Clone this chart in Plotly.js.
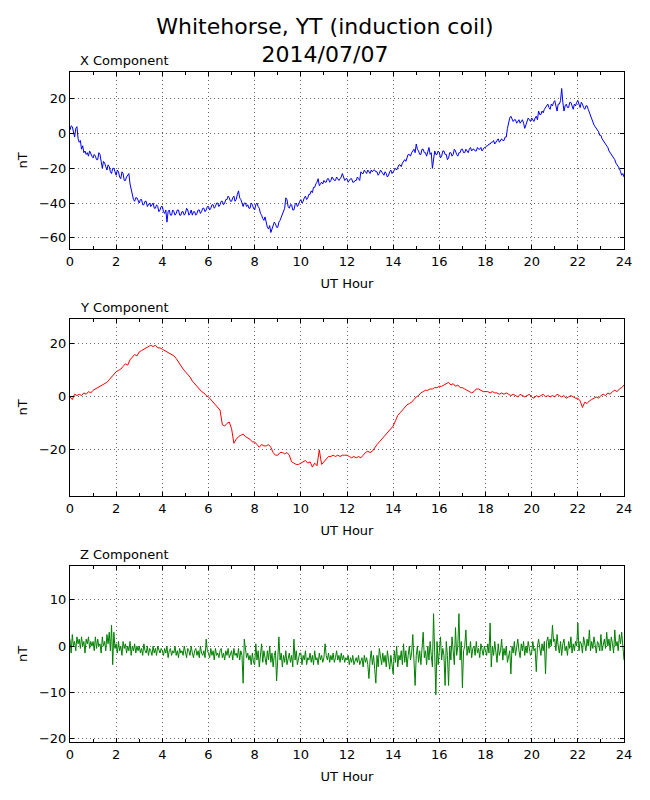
<!DOCTYPE html>
<html>
<head>
<meta charset="utf-8">
<script src="https://cdn.plot.ly/plotly-3.0.1.min.js"></script>
<style>
  body { margin: 0; background: #fff; }
  #graphique { width: 650px; height: 800px; }
</style>
</head>
<body>
<div id="graphique"></div>
<script>
// X and Z: one sample every 0.05 hour (20 per row), Y: every 0.1 hour (10 per row)
var pasX = 0.05;
var pasY = 0.1;
var pasZ = 0.05;

var composanteX = [
    2, 4.5, 4, 0, -2, 3, 4, -3, -5, -4, -9, -7, -11, -10, -12, -11, -13, -10, -12, -13,
    -14, -12, -13, -15, -15, -11, -12, -17, -20, -16, -17, -19, -21, -18, -19, -22, -23, -20, -20, -22,
    -24, -21, -22, -25, -26, -22, -23, -27, -27, -25, -24, -23, -29, -32, -36, -38, -39, -37, -37, -39,
    -40, -38, -38, -41, -41, -39, -39, -42, -41, -40, -42, -41, -40, -43, -43, -41, -42, -45, -44, -42,
    -42, -45, -46, -44, -51, -45, -44, -47, -47, -44, -45, -47, -46, -44, -44, -47, -47, -45, -45, -47,
    -46, -43, -44, -47, -46, -44, -47, -45, -45, -47, -46, -44, -44, -46, -45, -43, -43, -45, -44, -42,
    -42, -44, -43, -41, -41, -43, -42, -40, -40, -42, -41, -39, -39, -41, -40, -38, -38, -36, -37, -39,
    -39, -37, -36, -39, -38, -35, -33, -37, -38, -40, -42, -40, -40, -42, -41, -43, -43, -40, -41, -43,
    -44, -41, -40, -42, -43, -46, -47, -49, -50, -48, -52, -54, -55, -53, -57, -55, -53, -51, -52, -54,
    -54, -51, -50, -48, -47, -45, -43, -37, -38, -42, -43, -41, -41, -44, -44, -41, -40, -42, -41, -39,
    -38, -40, -39, -37, -36, -38, -37, -35, -35, -33, -34, -31, -31, -29, -28, -26, -30, -29, -28, -29,
    -27, -28, -28, -26, -26, -28, -27, -25, -26, -27, -27, -25, -26, -27, -26, -25, -23, -26, -27, -26,
    -26, -28, -27, -26, -26, -28, -28, -27, -27, -25, -26, -27, -22, -23, -23, -21, -22, -23, -21, -22,
    -23, -21, -22, -21, -21, -22, -22, -24, -23, -21, -22, -23, -24, -22, -23, -25, -24, -22, -21, -23,
    -22, -21, -20, -21, -19, -18, -18, -19, -17, -16, -15, -16, -14, -12, -12, -13, -11, -10, -9, -11,
    -6, -9, -10, -12, -12, -9, -9, -11, -11, -13, -10, -8, -12, -11, -20, -14, -10, -12, -12, -10,
    -11, -14, -13, -10, -10, -12, -12, -15, -14, -11, -11, -13, -12, -9, -10, -12, -13, -11, -11, -9,
    -9, -11, -11, -9, -10, -11, -9, -8, -10, -9, -9, -10, -10, -8, -9, -9, -8, -10, -9, -8,
    -8, -7, -7, -6, -6, -5, -5, -4, -6, -5, -4, -3, -5, -4, -3, -4, -4, -2, -2, 3,
    6, 9, 10, 8, 7, 8, 8, 6, 7, 8, 6, 7, 8, 6, 3, 5, 7, 9, 8, 7,
    9, 8, 7, 9, 10, 8, 13, 11, 11, 13, 12, 14, 15, 16, 17, 15, 14, 17, 16, 18,
    19, 16, 13, 17, 17, 19, 26, 18, 13, 16, 17, 15, 15, 18, 18, 16, 14, 17, 16, 18,
    19, 17, 15, 18, 17, 15, 14, 16, 16, 14, 12, 10, 8, 7, 5, 4, 3, 2, 1, -1,
    -1, -3, -4, -5, -6, -7, -8, -10, -11, -12, -13, -14, -15, -17, -18, -19, -20, -22, -24, -23,
    -25
];

var composanteY = [
    0, -1, 1, 0.5, 1, 0.5, 1.5, 1, 2, 1.5,
    2.5, 3, 3.5, 4, 4.5, 5, 5.5, 6.5, 7.5, 8.5,
    9.5, 10, 10.5, 11.5, 12.5, 12, 14, 15, 16, 15.5,
    17, 17.5, 18, 18.5, 19, 19.5, 19, 19.5, 18.5, 18.5,
    18, 17.5, 17, 16.5, 16, 15.5, 14.5, 13, 12, 10.5,
    9.5, 8.5, 7.5, 6, 5, 4, 3, 2, 1.5, 0.5,
    0, -1, -2, -3, -4, -5, -10.5, -11, -10, -9.5,
    -12, -17.5, -16, -15, -14.5, -14, -15, -15.5, -16, -17,
    -17, -18, -19, -18, -18.5, -18.5, -18, -19, -21, -22,
    -22, -21, -21, -21.5, -21, -22, -24.5, -25, -25.5, -25.5,
    -25, -24.5, -24, -25, -24.5, -26.5, -25, -26, -20, -25.5,
    -24.5, -23.5, -22.5, -22.5, -22, -22.5, -22, -22.5, -22, -22,
    -22, -22.5, -23, -22.5, -23, -22.5, -23, -22, -21, -20.5,
    -21, -20.5, -19, -18, -17, -16, -15, -14, -13, -12,
    -11, -9, -7, -6, -5, -4, -3, -2.5, -2, -1,
    0, 0.5, 1.5, 2, 2.5, 2.5, 3, 3, 3.5, 3.5,
    4, 4, 4.5, 5, 5.5, 4.5, 5, 4, 4.5, 3.5,
    3.5, 3, 2.5, 2, 1.5, 2, 3, 3, 2.5, 2,
    2, 2, 1.5, 2, 1.5, 1.5, 1, 1.5, 1, 1.5,
    1, 0.5, 1, 0.5, 0, 1, 0.5, 0, 0.5, 1,
    0, -0.5, 0.5, 0, 0.5, 1, 0, 0.5, 0, 0.5,
    0, 1, 0.5, 0, 0.5, -0.5, 0, 0.5, 0, -0.5,
    -0.5, -1.5, -4, -2, -2.5, -1.5, -1, -0.5, 0, -0.5,
    0.5, 1, 0.5, 1.5, 1, 2, 2.5, 2, 3, 3.5,
    4.5
];

var composanteZ = [
    1.5, -1.5, 2.5, 0, 1, -1, 2, 0.5, 1.5, -0.5, 2, 0, 1, -1.5, 1.5, 0.5, 2, -0.5, 1, 0,
    1, -1, 2, -0.5, 1.5, 0, 0.5, -1.5, 2, 0, 1, -1, 2.5, 0.5, 3, -1, 4.5, -4, 3, -0.5,
    0.5, -1.5, 1, -1, 0, -2, 1, -0.5, 0.5, -1.5, 0, -1, 1, -2, 0, -1, 0.5, -1.5, 0, -1,
    0, -1.5, -0.5, -2, 0.5, -1, -1.5, 0, -2, -0.5, -1, -2, 0, -1.5, -0.5, -2, 0, -1, -1.5, -0.5,
    -1, -2, -0.5, -1.5, 0, -2.5, -1, -0.5, -2, -1, -1.5, 0, -2, -1, -2.5, -0.5, -1.5, -1, -2, 0,
    -1.5, -2.5, -0.5, -1, -2, 0, -1.5, -2.5, -1, -0.5, -2, -1, -2.5, 0, -1.5, -2, -1, -2.5, 1.5, -1,
    -1.5, -2.5, -0.5, -2, -1, -3, -0.5, -2, -1.5, -2.5, -1, -0.5, -2.5, -1.5, -3, -1, -2, -0.5, -2.5, -1.5,
    -1, -3, -0.5, -2, -1.5, -2.5, -0.5, -3, -1, -2, -8, 1.5, -1, -2.5, -1.5, -3, -2, -4, -1.5, -3.5,
    -4, 0.5, -3, -1, -4.5, -2, 0.5, -3.5, -1, -2.5, -4, -1, -3, 0, -3.5, -1.5, -4.5, -2, -1, -7.5,
    -2, 2, -3, -1.5, -4.5, -2, -3.5, -1, -4, -2.5, -1.5, -3.5, -2, -4.5, 1.5, -3, -1, -4, -2.5, -1.5,
    -1.5, -4, -2, -3, -1, -4, -2.5, -3, -1.5, -3.5, -2, -4, -1, -3, -2.5, -4, -1.5, -3, -2, -3.5,
    -2.5, 0.5, -2, -3, -1.5, -3.5, -2, -3, -1.5, -3.5, -2.5, -1, -3, -2, -3.5, -1.5, -3, -2, -3.5, -2.5,
    -3, -2, -4, -2.5, -3.5, -2, -4, -3, -2.5, -3.5, -2, -4, -3, -2.5, -4.5, -2, -3.5, -2.5, -4, -7,
    -3, -1, -4, -2, -5, -8, -2, -4.5, -0.5, -3, -4, -1.5, -3.5, -2, -4.5, -1, -3, -5, -2, -3.5,
    -6, -1, -3.5, 0, -4.5, -2, -3, -1, -4, 0.5, -3.5, -1, -4.5, -2, 0, -3, -1.5, 2.5, -4, -8.5,
    -2, 0, -3.5, -1, -4, 0.5, 3, -2.5, -1, -4, 0, -3, 1, -2, -4.5, 7, -3, -10.5, 1, -4,
    -1, 2, -3, -0.5, -2, -8.5, 1, -2, -8.5, 0, -3, 2, -1, -4, 4, -2, 0, 7, -3, 1,
    -9, -1, 0, 3.5, -2, 0, -1.5, 1, -2.5, -0.5, 0, -2, 1, -1.5, -0.5, -2.5, 0.5, -1, -2, 0,
    -1, -2, 0.5, -1.5, 5, -4.5, 0, -2, 1, -1, -3.5, 0.5, -2, -1, 1.5, -3, -0.5, -2, 0, -3.5,
    -2, -1, -6, 0, -1.5, 1, -2, 0, 1.5, -1, -2.5, 0.5, -1, 1, -2, 0, -1.5, 1, -0.5, -2,
    -1.5, 1, -1, -0.5, -5.5, 0, 1.5, -1, -2, 0.5, -1, 1, -6, 1, 2, -0.5, 1.5, 0, 4.5, 1,
    1.5, -1, 2.5, 0, -1.5, 1, -2, 0.5, 1.5, -1, 0, -2, 1, -0.5, 2, -1.5, 0.5, -1, 1, 0,
    5, -1, 1, 0.5, -1.5, 2, 0, -1, 1.5, 0, 3.5, -1, 1, -0.5, 2, 0, -1.5, 1, 0.5, -1,
    2.5, -1, 0.5, 1.5, -0.5, 3, 0, 1.5, -1, 2, 0.5, -1.5, 3.5, 0, 1, -1, 2.5, 0.5, 3, -0.5,
    -3
];

var ticksHeure = [0, 2, 4, 6, 8, 10, 12, 14, 16, 18, 20, 22, 24];
var ticksX = [-60, -40, -20, 0, 20];
var ticksY = [-20, 0, 20];
var ticksZ = [-20, -10, 0, 10];

var police = 'DejaVu Sans, sans-serif';

function trace(valeurs, pas, couleur, axeX, axeY) {
    return {
        y: valeurs,
        x0: 0,
        dx: pas,
        xaxis: axeX,
        yaxis: axeY,
        mode: 'lines',
        line: { color: couleur, width: 1 },
        hoverinfo: 'skip'
    };
}

// same look for the three hour axes
function axeHeure(ancre) {
    return {
        anchor: ancre,
        domain: [0, 1],
        range: [0, 24],
        tickvals: ticksHeure,
        ticks: 'inside',
        ticklen: 4,
        tickcolor: '#000',
        minor: { dtick: 1, ticks: 'inside', ticklen: 3, tickcolor: '#000', showgrid: false },
        showline: true,
        mirror: 'allticks',
        linecolor: '#000',
        linewidth: 1,
        showgrid: true,
        gridcolor: '#000',
        gridwidth: 0.6,
        griddash: '1px,3px',
        zeroline: false,
        tickfont: { family: police, size: 13, color: '#000' },
        title: { text: 'UT Hour', font: { family: police, size: 13, color: '#000' }, standoff: 11 }
    };
}

function axeValeur(ancre, domaine, plage, ticks) {
    return {
        anchor: ancre,
        domain: domaine,
        range: plage,
        tickvals: ticks,
        ticks: 'inside',
        ticklen: 4,
        tickcolor: '#000',
        showline: true,
        mirror: 'allticks',
        linecolor: '#000',
        linewidth: 1,
        showgrid: true,
        gridcolor: '#000',
        gridwidth: 0.6,
        griddash: '1px,3px',
        zeroline: false,
        tickfont: { family: police, size: 13, color: '#000' },
        title: { text: 'nT', font: { family: police, size: 13, color: '#000' }, standoff: 8 }
    };
}

function titrePanneau(texte, axeY) {
    return {
        text: texte,
        xref: 'x domain', yref: axeY + ' domain',
        x: 0.014, y: 1,
        xanchor: 'left', yanchor: 'bottom',
        yshift: 2,
        showarrow: false,
        font: { family: police, size: 13, color: '#000' }
    };
}

var layout = {
    width: 650,
    height: 800,
    margin: { t: 72, b: 58, l: 70, r: 26 },
    paper_bgcolor: '#fff',
    plot_bgcolor: '#fff',
    showlegend: false,
    title: {
        text: 'Whitehorse, YT (induction coil)<br>2014/07/07',
        font: { family: police, size: 22, color: '#000' },
        x: 0.5, xanchor: 'center',
        y: 0.958, yanchor: 'top'
    },
    xaxis: axeHeure('y'),
    yaxis: axeValeur('x', [0.7358, 1], [-66.5, 35.5], ticksX),
    xaxis2: axeHeure('y2'),
    yaxis2: axeValeur('x2', [0.3672, 0.6313], [-37.4, 29.4], ticksY),
    xaxis3: axeHeure('y3'),
    yaxis3: axeValeur('x3', [0, 0.2627], [-20.7, 17.3], ticksZ),
    annotations: [
        titrePanneau('X Component', 'y'),
        titrePanneau('Y Component', 'y2'),
        titrePanneau('Z Component', 'y3')
    ]
};

var donnees = [
    trace(composanteX, pasX, '#0000ff', 'x', 'y'),
    trace(composanteY, pasY, '#ff0000', 'x2', 'y2'),
    trace(composanteZ, pasZ, '#008000', 'x3', 'y3')
];

Plotly.newPlot('graphique', donnees, layout, { displayModeBar: false, staticPlot: true });
</script>
</body>
</html>
